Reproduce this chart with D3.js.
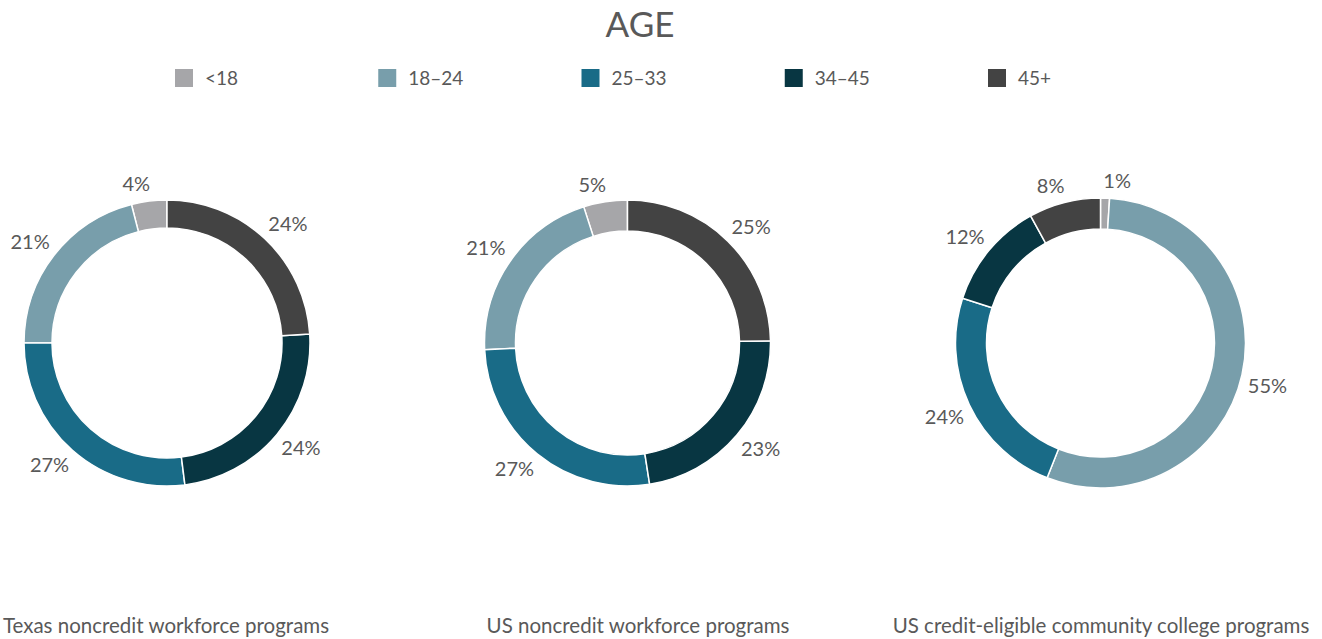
<!DOCTYPE html>
<html>
<head>
<meta charset="utf-8">
<script src="https://cdn.jsdelivr.net/npm/d3@7/dist/d3.min.js"></script>
<style>
  html, body { margin: 0; padding: 0; background: #fff; }
  svg { display: block; font-family: Lato, "Open Sans", sans-serif; }
</style>
</head>
<body>
<svg id="chart" width="1322" height="639"></svg>
<script>
// ---- data ----
const title = "AGE";
const categories = ["<18", "18–24", "25–33", "34–45", "45+"];
const colors = ["#a6a6a9", "#789eab", "#196b87", "#083642", "#434343"];
const chartNames = [
  "Texas noncredit workforce programs",
  "US noncredit workforce programs",
  "US credit-eligible community college programs"
];
const texasValues = [4, 21, 27, 24, 24];
const usNoncreditValues = [5, 21, 27, 23, 25];
const usCreditValues = [1, 55, 24, 12, 8];
const clockwise = [false, false, true];

// ---- layout ----
const svg = d3.select("#chart");
const textColor = "#595959";

svg.append("text")
  .attr("x", 640).attr("y", 37)
  .attr("text-anchor", "middle")
  .attr("font-size", 35)
  .attr("fill", textColor)
  .text(title);

// legend
const legendX = d3.scalePoint().domain(categories).range([175, 988]);
const lg = svg.append("g");
categories.forEach((c, i) => {
  const g = lg.append("g").attr("transform", `translate(${legendX(c)},69)`);
  g.append("rect").attr("width", 18).attr("height", 18).attr("fill", colors[i]);
  g.append("text").attr("x", 30).attr("y", 16)
    .attr("font-size", 19).attr("fill", textColor).text(c);
});

const datasets = [texasValues, usNoncreditValues, usCreditValues];
const centers = [[167, 343], [627.5, 343], [1100.5, 343]];
const outerR = [143, 143, 145];
const innerR = [115, 112, 114];
const nameX = [166, 638, 1101];

datasets.forEach((vals, k) => {
  const data = categories.map((c, i) => ({ cat: c, value: vals[i], color: colors[i] }));
  const pie = d3.pie().sort(null).value(d => d.value)
    .startAngle(0)
    .endAngle(clockwise[k] ? 2 * Math.PI : -2 * Math.PI);
  const arcs = pie(data);
  const arc = d3.arc().innerRadius(innerR[k]).outerRadius(outerR[k]);
  const lr = outerR[k] + 8;
  const labelArc = d3.arc().innerRadius(lr).outerRadius(lr);
  const g = svg.append("g").attr("transform", `translate(${centers[k][0]},${centers[k][1]})`);
  g.selectAll("path.slice").data(arcs).enter().append("path")
    .attr("class", "slice")
    .attr("d", arc)
    .attr("fill", d => d.data.color)
    .attr("stroke", "#fff")
    .attr("stroke-width", 1.5);
  g.selectAll("text.lbl").data(arcs).enter().append("text")
    .attr("class", "lbl")
    .attr("text-anchor", "middle")
    .attr("dy", "0.36em")
    .attr("font-size", 20)
    .attr("fill", textColor)
    .text(d => d.data.value + "%")
    .each(function(d) {
      const w = this.getComputedTextLength();
      const [px, py] = labelArc.centroid(d);
      const hw = w / 2 - 2, hh = 9;
      const cx = px + Math.sign(px) * hw;
      const cy = py + Math.sign(py) * hh;
      d3.select(this).attr("transform", `translate(${cx},${cy})`);
    });
  svg.append("text")
    .attr("x", nameX[k]).attr("y", 633)
    .attr("text-anchor", "middle")
    .attr("font-size", 20.5)
    .attr("fill", textColor)
    .text(chartNames[k]);
});
</script>
</body>
</html>
